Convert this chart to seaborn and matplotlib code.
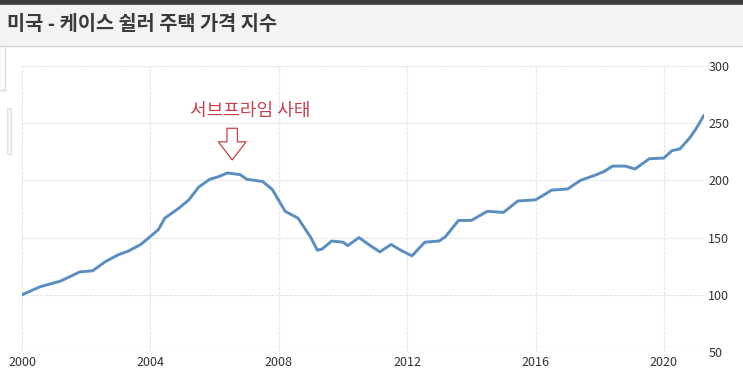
import numpy as np
import pandas as pd
import matplotlib.pyplot as plt
import seaborn as sns

# Case-Shiller index
years = [2000.0, 2000.56, 2001.2, 2001.5, 2001.8, 2002.2, 2002.6, 2003.0, 2003.3, 2003.7,
         2004.0, 2004.25, 2004.45, 2004.9, 2005.2, 2005.5, 2005.85, 2006.1, 2006.4, 2006.8,
         2007.0, 2007.5, 2007.8, 2008.2, 2008.6, 2009.0, 2009.2, 2009.35, 2009.65, 2010.0,
         2010.15, 2010.5, 2010.8, 2011.15, 2011.5, 2011.8, 2012.15, 2012.55, 2013.0, 2013.2,
         2013.6, 2014.0, 2014.5, 2015.0, 2015.45, 2016.0, 2016.3, 2016.5, 2017.0, 2017.4,
         2017.9, 2018.15, 2018.4, 2018.8, 2019.1, 2019.35, 2019.55, 2020.0, 2020.25, 2020.5,
         2020.8, 2021.0, 2021.25]
index_values = [100, 107, 112, 116, 120, 121, 129, 135, 138, 144,
                151, 157, 167, 176, 183, 194, 201, 203, 206.5, 205,
                201, 199, 192, 173, 167, 150, 139, 140, 147, 146,
                143, 150, 144, 137.5, 144, 139, 134, 146, 147, 151,
                165, 165, 173, 172, 182, 183, 188, 191.5, 192.5, 200,
                205, 208, 212.5, 212.5, 210, 215, 219, 219.5, 226, 227.5,
                237, 245, 257]
x_ticks = [2000, 2004, 2008, 2012, 2016, 2020]
y_ticks = [50, 100, 150, 200, 250, 300]

title = "미국 - 케이스 쉴러 주택 가격 지수"
note = "서브프라임 사태"

df = pd.DataFrame({"year": years, "value": index_values})

sns.set_style("white")
plt.rcParams['font.family'] = ['Noto Sans CJK KR', 'DejaVu Sans']

W, H = 743, 388
fig = plt.figure(figsize=(W / 100, H / 100), dpi=100)
fig.patch.set_facecolor("white")

# header: dark strip and light title bar
fig.add_artist(plt.Rectangle((0, 1 - 5 / H), 1, 5 / H, transform=fig.transFigure,
                             color="#3a3a3a", zorder=0))
fig.add_artist(plt.Rectangle((0, 1 - 45 / H), 1, 40 / H, transform=fig.transFigure,
                             color="#f3f3f3", zorder=0))
fig.add_artist(plt.Line2D([0, 1], [1 - 46 / H] * 2, transform=fig.transFigure,
                          color="#d6d6d6", lw=1))
fig.text(7 / W, 1 - 25 / H, title, fontsize=14.2, fontweight="bold", color="#3a3a3a",
         va="center", ha="left")
# small left-side decorations
fig.add_artist(plt.Line2D([5 / W] * 2, [1 - 47 / H, 1 - 90 / H], transform=fig.transFigure,
                          color="#dcdcdc", lw=1))
fig.add_artist(plt.Line2D([0, 5 / W], [1 - 90 / H] * 2, transform=fig.transFigure,
                          color="#dcdcdc", lw=1))
fig.add_artist(plt.Rectangle((7 / W, 1 - 154 / H), 4 / W, 46 / H, transform=fig.transFigure,
                             facecolor="#f4f4f4", edgecolor="#e2e2e2", lw=0.8))

ax = fig.add_axes([22 / W, 1 - 352 / H, (704 - 22) / W, (352 - 66) / H])
sns.lineplot(data=df, x="year", y="value", ax=ax, color="#5b8ec0", linewidth=2.1)

ax.set_xlim(2000, 2021.25)
ax.set_ylim(50, 300)
ax.set_xticks(x_ticks)
ax.set_yticks(y_ticks)
ax.yaxis.tick_right()
ax.tick_params(length=0, labelsize=9, labelcolor="#333333", pad=3)
ax.set_xlabel("")
ax.set_ylabel("")
ax.grid(True, color="#e6e6e6", lw=0.8, ls=(0, (3, 1)))
for s in ax.spines.values():
    s.set_visible(False)

ax.text(2007.1, 260.5, note, color="#c9404c", fontsize=13, ha="center", va="center")
ax.annotate("", xy=(2006.55, 215.5), xytext=(2006.55, 248),
            arrowprops=dict(arrowstyle="simple,head_width=2.0,head_length=1.3,tail_width=0.75",
                            fc="white", ec="#c9404c", lw=0.9, mutation_scale=10))

fig.savefig("out.png", dpi=100)
